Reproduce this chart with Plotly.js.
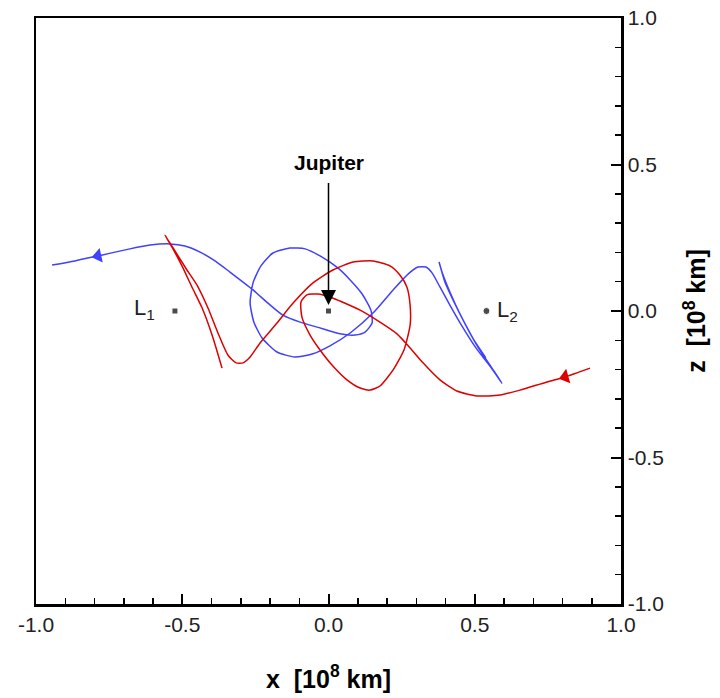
<!DOCTYPE html>
<html>
<head>
<meta charset="utf-8">
<script src="https://cdn.plot.ly/plotly-3.0.1.min.js"></script>
<style>html,body{margin:0;padding:0;background:#fff;}#chart{width:720px;height:698px;}</style>
</head>
<body>
<div id="chart"></div>
<script>
// Blue trajectory (x, z in 10^8 km)
const blueX = [-0.945,-0.867,-0.788,-0.679,-0.610,-0.542,-0.491,-0.439,-0.388,-0.337,-0.258,-0.207,-0.156,-0.097,-0.039,0.039,0.091,0.125,0.149,0.145,0.115,0.074,0.032,-0.029,-0.080,-0.132,-0.190,-0.231,-0.258,-0.268,-0.255,-0.227,-0.176,-0.115,-0.056,0.005,0.074,0.152,0.221,0.272,0.306,0.333,0.354,0.381,0.415,0.456,0.504,0.552,0.593,0.559,0.511,0.467,0.429,0.398,0.378,0.388,0.415,0.453,0.497,0.538];
const blueZ = [0.157,0.171,0.188,0.212,0.225,0.229,0.222,0.201,0.171,0.133,0.072,0.027,-0.014,-0.038,-0.055,-0.078,-0.082,-0.072,-0.041,0.003,0.058,0.106,0.147,0.188,0.212,0.215,0.198,0.154,0.096,0.027,-0.038,-0.092,-0.140,-0.157,-0.147,-0.119,-0.075,-0.007,0.072,0.126,0.150,0.150,0.130,0.082,0.020,-0.051,-0.126,-0.188,-0.246,-0.195,-0.123,-0.044,0.031,0.099,0.167,0.133,0.065,-0.017,-0.099,-0.160];
// Red trajectory
const redX = [0.894,0.809,0.747,0.655,0.586,0.508,0.439,0.381,0.323,0.279,0.234,0.176,0.108,0.039,0.005,-0.036,-0.074,-0.094,-0.091,-0.063,-0.029,0.015,0.063,0.108,0.142,0.176,0.221,0.258,0.279,0.279,0.268,0.244,0.210,0.152,0.084,0.015,-0.053,-0.121,-0.176,-0.234,-0.268,-0.292,-0.316,-0.344,-0.378,-0.412,-0.450,-0.484,-0.525,-0.559,-0.535,-0.501,-0.467,-0.432,-0.398,-0.364];
const redZ = [-0.195,-0.225,-0.242,-0.270,-0.287,-0.290,-0.273,-0.235,-0.177,-0.126,-0.078,-0.038,0.003,0.034,0.048,0.058,0.055,0.031,-0.020,-0.082,-0.133,-0.188,-0.235,-0.263,-0.270,-0.256,-0.201,-0.133,-0.048,0.020,0.082,0.123,0.154,0.171,0.167,0.140,0.096,0.027,-0.041,-0.109,-0.157,-0.177,-0.177,-0.150,-0.075,0.010,0.089,0.140,0.205,0.259,0.218,0.154,0.082,0.010,-0.082,-0.195];
// Direction arrows on trajectories
const arrowX = [-0.788, 0.809];
const arrowZ = [0.188, -0.225];
const arrowAngle = [-12, -16];
const arrowColor = ['#4040ff', '#dd0000'];
// Bodies / Lagrange points
const bodyNames = ['Jupiter', 'L<sub>1</sub>', 'L<sub>2</sub>'];
const bodyX = [0.0, -0.525, 0.540];
const bodyZ = [0.0, 0.0, 0.0];
// Axis ticks
const tickVals = [-1.0, -0.5, 0.0, 0.5, 1.0];
const tickText = ['-1.0', '-0.5', '0.0', '0.5', '1.0'];

const traces = [
  {x: blueX, y: blueZ, mode: 'lines', line: {color: '#4040ff', width: 1.5, shape: 'spline', smoothing: 0.6}, hoverinfo: 'skip'},
  {x: redX, y: redZ, mode: 'lines', line: {color: '#dd0000', width: 1.5, shape: 'spline', smoothing: 0.6}, hoverinfo: 'skip'},
  {x: arrowX, y: arrowZ, mode: 'markers',
   marker: {symbol: 'triangle-left', size: 13, color: arrowColor, angle: arrowAngle, line: {width: 0}}},
  {x: bodyX, y: bodyZ, mode: 'markers',
   marker: {symbol: ['square', 'square', 'circle'], size: [6, 6, 7], color: '#000'}}
];

const tickFont = {family: '"Liberation Sans Narrow", "Liberation Sans", Arial, sans-serif', size: 21, color: '#222'};
const titleFont = {family: '"Liberation Sans", Arial, sans-serif', size: 25, color: '#000'};

const layout = {
  width: 720, height: 698,
  margin: {l: 36, r: 99, t: 18, b: 94},
  paper_bgcolor: '#fff', plot_bgcolor: '#fff',
  showlegend: false,
  xaxis: {
    range: [-1, 1], tickvals: tickVals, ticktext: tickText,
    ticks: 'inside', ticklen: 10, tickwidth: 2, tickcolor: '#000',
    minor: {dtick: 0.1, tick0: 0, ticks: 'inside', ticklen: 6, tickwidth: 1.5, tickcolor: '#000', showgrid: false},
    showline: true, linewidth: 2.5, linecolor: '#000', mirror: true,
    showgrid: false, zeroline: false,
    tickfont: tickFont,
    title: {text: '<b>x&nbsp; [10<sup>8</sup> km]</b>', font: titleFont, standoff: 36}
  },
  yaxis: {
    range: [-1, 1], side: 'right', tickvals: tickVals, ticktext: tickText,
    ticks: 'inside', ticklen: 10, tickwidth: 2, tickcolor: '#000',
    minor: {dtick: 0.1, tick0: 0, ticks: 'inside', ticklen: 6, tickwidth: 1.5, tickcolor: '#000', showgrid: false},
    showline: true, linewidth: 2.5, linecolor: '#000', mirror: true,
    showgrid: false, zeroline: false,
    tickfont: tickFont,
    title: {text: '<b>z&nbsp; [10<sup>8</sup> km]</b>', font: titleFont, standoff: 25}
  },
  annotations: [
    {x: bodyX[0], y: bodyZ[0], text: '<b>' + bodyNames[0] + '</b>', showarrow: true,
     arrowhead: 2, arrowsize: 2.0, arrowwidth: 1.5, arrowcolor: '#000',
     ax: 0, ay: -149, standoff: 6, startstandoff: 8,
     font: {family: '"Liberation Sans", Arial, sans-serif', size: 21, color: '#000'}},
    {x: bodyX[1], y: bodyZ[1], text: bodyNames[1], showarrow: false,
     xanchor: 'right', yanchor: 'middle', xshift: -18, yshift: 2,
     font: {family: '"Liberation Sans", Arial, sans-serif', size: 22, color: '#222'}},
    {x: bodyX[2], y: bodyZ[2], text: bodyNames[2], showarrow: false,
     xanchor: 'left', yanchor: 'middle', xshift: 9, yshift: 0,
     font: {family: '"Liberation Sans", Arial, sans-serif', size: 22, color: '#222'}}
  ]
};

Plotly.newPlot('chart', traces, layout, {staticPlot: true, displayModeBar: false});
</script>
</body>
</html>
